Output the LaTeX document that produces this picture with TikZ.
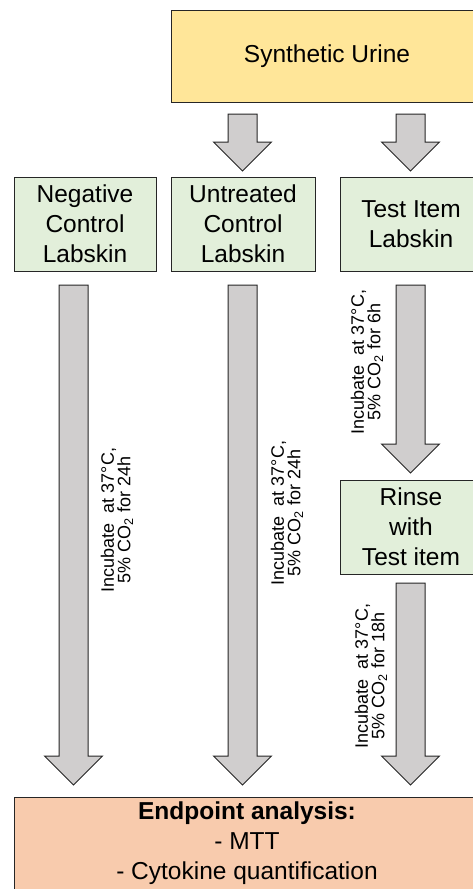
\documentclass[tikz,border=0pt]{standalone}
\usepackage{fontspec}
\setmainfont{Liberation Sans}
\usetikzlibrary{calc}
\definecolor{urinefill}{HTML}{FFE699}
\definecolor{skinfill}{HTML}{E2EFDA}
\definecolor{endfill}{HTML}{F8CBAD}
\definecolor{arrowgray}{HTML}{D0CECE}
\definecolor{edgecol}{HTML}{262626}
\newcommand\blockarrow[2]{%
  \draw[blk] let \p1=(#1), \p2=(#2) in
    (\x1-14.5pt,\y1) -- (\x1+14.5pt,\y1) -- (\x1+14.5pt,\y2+29pt) --
    (\x1+29pt,\y2+29pt) -- (\x1,\y2) -- (\x1-29pt,\y2+29pt) --
    (\x1-14.5pt,\y2+29pt) -- cycle;}
\begin{document}
\begin{tikzpicture}[x=1pt,y=-1pt,
  box/.style={draw=edgecol, line width=1pt, font=\fontsize{24.5}{30}\selectfont,
    align=center, inner sep=0pt},
  greenbox/.style={box, fill=skinfill, minimum width=142pt, minimum height=94pt},
  note/.style={rotate=90, align=center, font=\fontsize{18}{15}\selectfont, inner sep=0pt},
  blk/.style={draw=edgecol, line width=1pt, fill=arrowgray}]
\useasboundingbox (0,0) rectangle (472,889);

% boxes
\node[box, fill=urinefill, minimum width=312pt, minimum height=92pt] (su) at (327,56) {Synthetic Urine};
\node[greenbox] (neg) at (85,224) {Negative\\Control\\Labskin};
\node[greenbox, minimum width=144pt] (unt) at (243,224) {Untreated\\Control\\Labskin};
\node[greenbox] (test) at (411,224) {Test Item\\Labskin};
\node[greenbox] (rinse) at (411,527) {Rinse\\with\\Test item};
\node[box, fill=endfill, minimum width=466pt, minimum height=92pt] (endp) at (247,843)
  {\textbf{Endpoint analysis:}\\- MTT\\- Cytokine quantification};

% arrow end points
\coordinate (u0s) at (242.5,114); \coordinate (u0e) at (242.5,171);
\coordinate (t0s) at (410.5,114); \coordinate (t0e) at (410.5,171);
\coordinate (n1s) at (73.5,285);  \coordinate (n1e) at (73.5,785);
\coordinate (u1s) at (242.5,285); \coordinate (u1e) at (242.5,785);
\coordinate (t1s) at (410.5,285); \coordinate (t1e) at (410.5,473);
\coordinate (t2s) at (410.5,583); \coordinate (t2e) at (410.5,785);

\blockarrow{u0s}{u0e}
\blockarrow{t0s}{t0e}
\blockarrow{n1s}{n1e}
\blockarrow{u1s}{u1e}
\blockarrow{t1s}{t1e}
\blockarrow{t2s}{t2e}

% notes
\node[note] (nn) at (117,520) {Incubate\ \ at 37°C,\\5\% CO\textsubscript{2} for 24h};
\node[note] (un) at (287,513) {Incubate\ \ at 37°C,\\5\% CO\textsubscript{2} for 24h};
\node[note] (tn1) at (367,362) {Incubate\ \ at 37°C,\\5\% CO\textsubscript{2} for 6h};
\node[note] (tn2) at (371,676) {Incubate\ \ at 37°C,\\5\% CO\textsubscript{2} for 18h};
\end{tikzpicture}
\end{document}
